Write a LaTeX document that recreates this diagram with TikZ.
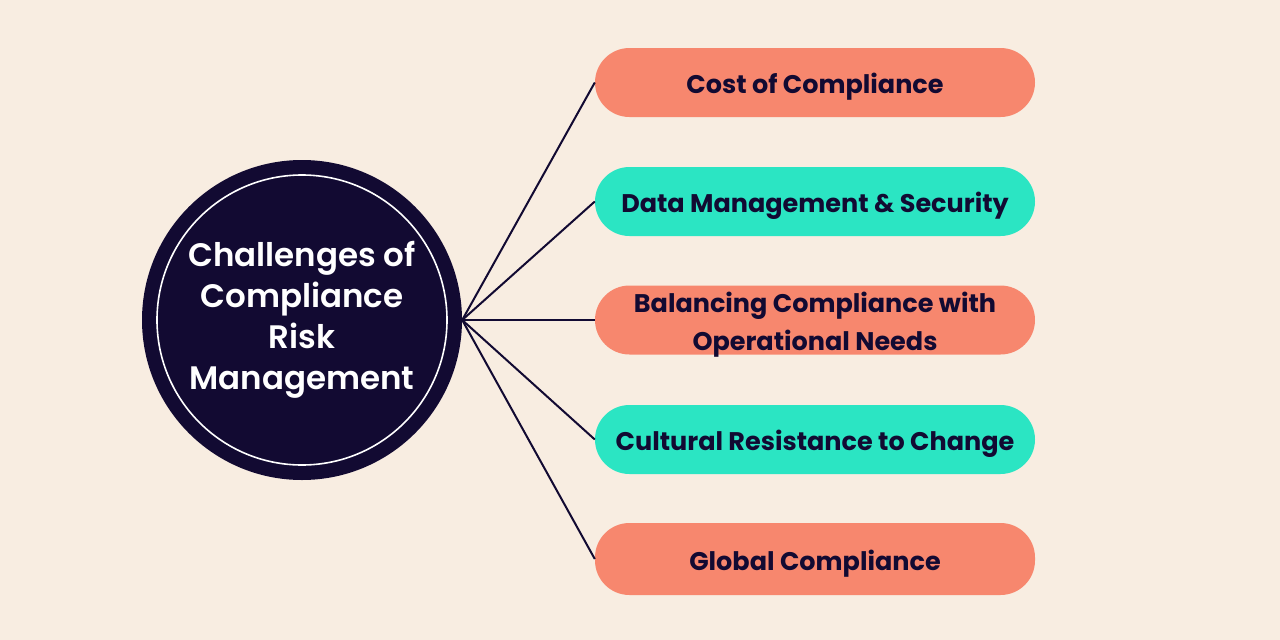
\documentclass[tikz,border=0pt]{standalone}
\usepackage{fontspec}
\setmainfont{Poppins}
\newfontfamily\circfont{Poppins}[UprightFont={* SemiBold}]
\newfontfamily\boxfont{Poppins}[UprightFont={* Bold}]
\definecolor{bg}{HTML}{F8EDE1}
\definecolor{navy}{HTML}{120A32}
\definecolor{salmon}{HTML}{F7876E}
\definecolor{teal}{HTML}{2BE5C3}
\begin{document}
\begin{tikzpicture}[x=1pt,y=-1pt,
  pill/.style={rounded corners=34.5pt, minimum width=440pt, minimum height=69pt,
    inner sep=0pt, text=navy, text height=24pt, text depth=2pt,
    font=\boxfont\fontsize{25.5}{38}\selectfont, align=center},
  link/.style={draw=navy, line width=2pt}]
\fill[bg] (0,0) rectangle (1280,640);
\useasboundingbox (0,0) rectangle (1280,640);
\node[circle, fill=navy, minimum size=320pt, inner sep=0pt] (c) at (302,320) {};
\node[circle, draw=white, line width=1.6pt, minimum size=290pt, inner sep=0pt] (ci) at (302,320) {};
\node[text=white, align=center, font=\circfont\fontsize{32.5}{41}\selectfont] (ct) at (302,320) {Challenges of\\Compliance\\Risk\\Management};
\node[pill, fill=salmon] (b1) at (815,82.5) {Cost of Compliance};
\node[pill, fill=teal] (b2) at (815,201.5) {Data Management \& Security};
\node[pill, fill=salmon, text height=62pt] (b3) at (815,320) {Balancing Compliance with\\Operational Needs};
\node[pill, fill=teal] (b4) at (815,439.5) {Cultural Resistance to Change};
\node[pill, fill=salmon, minimum height=72pt] (b5) at (815,559) {Global Compliance};
\foreach \b in {b1,b2,b3,b4,b5} \draw[link] (c.east) -- (\b.west);
\end{tikzpicture}
\end{document}
